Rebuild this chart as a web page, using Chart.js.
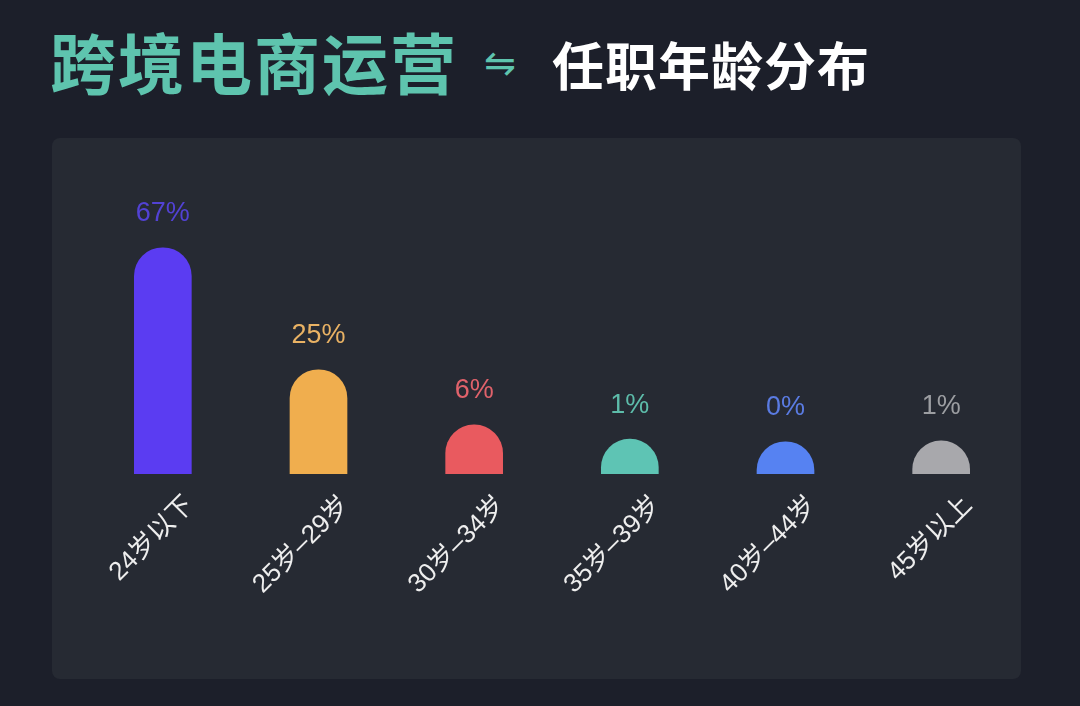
<!DOCTYPE html>
<html>
<head>
<meta charset="utf-8">
<script src="https://cdn.jsdelivr.net/npm/chart.js@4/dist/chart.umd.min.js"></script>
<style>
  html, body { margin:0; padding:0; width:1080px; height:706px; background:#1c1f2a; overflow:hidden; }
  #title { position:absolute; left:0; top:0; width:1080px; height:130px; }
  .t1 { position:absolute; left:50px; top:20px; font-family:"Noto Sans CJK SC"; font-weight:700; font-size:66px; line-height:80px; color:#5ec4ae; letter-spacing:2px; white-space:nowrap; }
  .arrow { position:absolute; left:484px; top:38px; font-family:"DejaVu Sans"; font-size:38px; line-height:50px; color:#5ec4ae; }
  .t2 { position:absolute; left:552px; top:31px; font-family:"Noto Sans CJK SC"; font-weight:700; font-size:52px; line-height:66px; color:#ffffff; letter-spacing:1px; white-space:nowrap; }
  #panel { position:absolute; left:52px; top:138px; width:969px; height:541px; background:#262a33; border-radius:8px; }
  #wrap { position:absolute; left:0; top:0; width:1080px; height:706px; }
</style>
</head>
<body>
<div id="title">
  <div class="t1">跨境电商运营</div>
  <div class="arrow">⇋</div>
  <div class="t2">任职年龄分布</div>
</div>
<div id="panel"></div>
<div id="wrap"><canvas id="c" width="1080" height="706"></canvas></div>
<script>
const categories = ["24岁以下", "25岁–29岁", "30岁–34岁", "35岁–39岁", "40岁–44岁", "45岁以上"];
const shares = [67, 25, 6, 1.1, 0.2, 0.5];
const barColors = ["#5b3cf2", "#f0ae4e", "#e95a5f", "#5ec4b4", "#5682f2", "#a8a8ac"];
const labelColors = ["#5242d4", "#e9b264", "#e0626b", "#5dbcaa", "#5a7be2", "#9c9ea2"];

const valueLabels = {
  id: 'valueLabels',
  afterDatasetsDraw(chart) {
    const ctx = chart.ctx;
    const meta = chart.getDatasetMeta(0);
    ctx.save();
    ctx.font = '27px "Liberation Sans", "Noto Sans", sans-serif';
    ctx.textAlign = 'center';
    ctx.textBaseline = 'middle';
    meta.data.forEach((bar, i) => {
      ctx.fillStyle = labelColors[i];
      ctx.fillText(Math.round(shares[i]) + '%', bar.x, bar.y - 34);
    });
    ctx.restore();
  }
};

new Chart(document.getElementById('c'), {
  type: 'bar',
  data: {
    labels: categories,
    datasets: [{
      data: shares,
      base: -40,
      backgroundColor: barColors,
      borderWidth: 0,
      borderSkipped: 'start',
      borderRadius: { topLeft: 29, topRight: 29, bottomLeft: 0, bottomRight: 0 },
      barThickness: 57,
      clip: { left: false, top: false, right: false, bottom: 0 }
    }]
  },
  options: {
    responsive: false,
    animation: false,
    devicePixelRatio: 1,
    layout: { padding: { left: 85, right: 61, top: 210, bottom: 0 } },
    plugins: { legend: { display: false }, tooltip: { enabled: false } },
    scales: {
      x: {
        grid: { display: false, drawTicks: false },
        border: { display: false },
        ticks: {
          color: '#eeeeee',
          font: { family: '"Liberation Sans", "Noto Sans CJK SC"', size: 26 },
          minRotation: 45,
          maxRotation: 45,
          padding: 16,
          labelOffset: 27
        },
        afterFit(scale) { scale.height = 232; }
      },
      y: {
        display: false,
        min: -10.9,
        max: 80
      }
    }
  },
  plugins: [valueLabels]
});
</script>
</body>
</html>
